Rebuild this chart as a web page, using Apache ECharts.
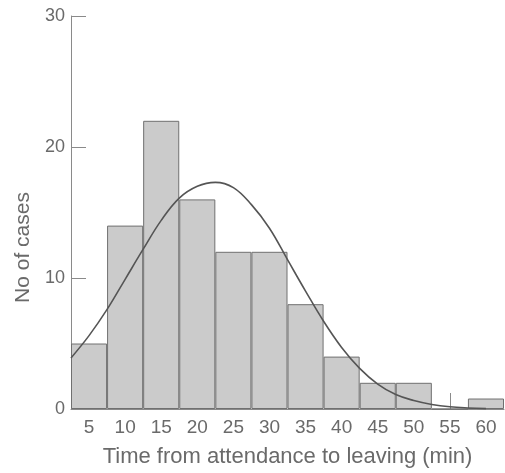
<!DOCTYPE html>
<html>
<head>
<meta charset="utf-8">
<script src="https://cdn.jsdelivr.net/npm/echarts@6/dist/echarts.min.js"></script>
<style>
  html, body { margin: 0; padding: 0; background: #fff; }
  #main { width: 505px; height: 473px; }
</style>
</head>
<body>
<div id="main"></div>
<script>
// bins (minutes, centre of each 5 min bin)
var binLabels = ['5', '10', '15', '20', '25', '30', '35', '40', '45', '50', '55', '60'];
// no of cases in each bin
var caseCounts = [5, 14, 22, 16, 12, 12, 8, 4, 2, 2, 0, 0.8];
// fitted normal curve
var curveX = [2.5, 5, 7.5, 10, 12.5, 15, 17.5, 20, 22.5, 25, 27.5, 30, 32.5, 35, 37.5, 40, 42.5, 45, 47.5, 50, 52.5, 55, 57.5, 60];
var curveY = [3.9, 5.6, 7.6, 9.9, 12.2, 14.4, 16.1, 17.0, 17.3, 16.9, 15.6, 13.8, 11.4, 9.0, 6.7, 4.7, 3.1, 1.9, 1.1, 0.65, 0.35, 0.17, 0.08, 0.03];
var yTicks = [0, 10, 20, 30];

var chart = echarts.init(document.getElementById('main'));

var textGrey = '#6a6a6a';
var axisGrey = '#8a8a8a';

var curveData = curveX.map(function (x, i) { return [x, curveY[i]]; });

var option = {
  animation: false,
  grid: { left: 71, right: 1, top: 16, bottom: 62 },
  xAxis: [{
    type: 'category',
    data: binLabels,
    boundaryGap: true,
    name: 'Time from attendance to leaving (min)',
    nameLocation: 'middle',
    nameGap: 37,
    nameTextStyle: { fontFamily: 'Liberation Sans', fontSize: 22, color: textGrey },
    axisLine: { lineStyle: { color: axisGrey, width: 1 } },
    axisTick: {
      show: true,
      inside: true,
      length: 16,
      alignWithLabel: true,
      interval: function (index) { return index === 10; },
      lineStyle: { color: axisGrey }
    },
    axisLabel: { fontFamily: 'Liberation Sans', fontSize: 19, color: textGrey, margin: 9 },
    splitLine: { show: false }
  }, {
    type: 'value',
    min: 2.5,
    max: 62.5,
    show: false
  }],
  yAxis: {
    type: 'value',
    min: yTicks[0],
    max: yTicks[yTicks.length - 1],
    interval: 10,
    name: 'No of cases',
    nameLocation: 'middle',
    nameGap: 36,
    nameTextStyle: { fontFamily: 'Liberation Sans', fontSize: 21, color: textGrey, padding: [0, 70, 0, 0] },
    axisLine: { show: true, lineStyle: { color: axisGrey, width: 1 } },
    axisTick: { show: true, inside: true, length: 15, lineStyle: { color: axisGrey } },
    axisLabel: { fontFamily: 'Liberation Sans', fontSize: 18, color: textGrey, margin: 6 },
    splitLine: { show: false }
  },
  series: [{
    type: 'bar',
    data: caseCounts,
    barCategoryGap: '0%',
    itemStyle: { color: '#cbcbcb', borderColor: '#707070', borderWidth: 1 }
  }, {
    type: 'line',
    xAxisIndex: 1,
    data: curveData,
    smooth: 0.4,
    showSymbol: false,
    lineStyle: { color: '#555', width: 1.6 },
    z: 5
  }]
};

chart.setOption(option);
</script>
</body>
</html>
